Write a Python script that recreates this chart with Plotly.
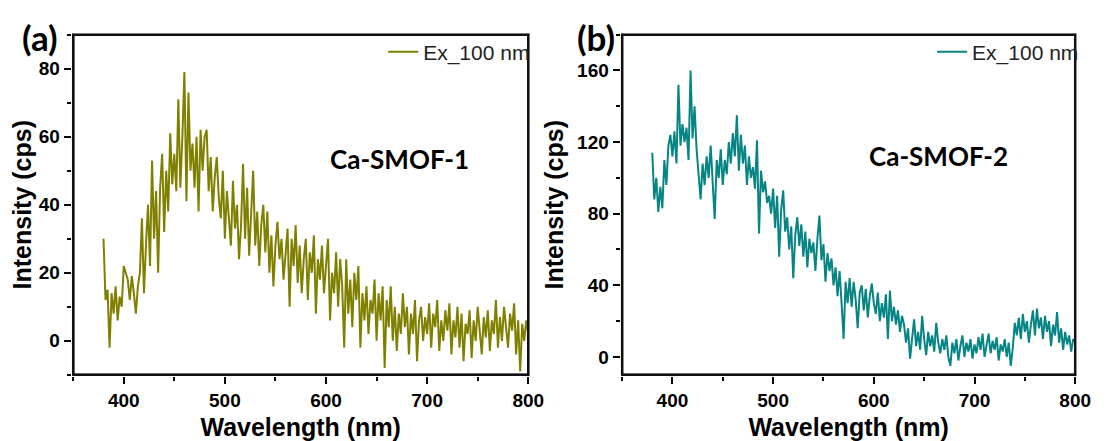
import plotly.graph_objects as go

# Wavelength grid (nm), 2 nm step
wavelength = list(range(380, 801, 2))

# Ca-SMOF-1 intensity (cps)
smof1 = [
    30, 12, 15, -2, 14, 8, 16, 6, 13, 10,
    22, 20, 18, 12, 19, 14, 8, 16, 20, 36,
    14, 28, 40, 22, 53, 30, 44, 20, 45, 55,
    32, 50, 38, 61, 46, 55, 44, 71, 45, 60,
    79, 41, 73, 50, 58, 45, 60, 38, 62, 50,
    60, 62, 44, 54, 38, 48, 54, 42, 36, 50,
    30, 44, 35, 28, 47, 33, 40, 24, 34, 52,
    30, 45, 25, 36, 50, 28, 38, 22, 34, 40,
    26, 38, 20, 31, 16, 28, 35, 24, 30, 18,
    26, 33, 10, 30, 22, 34, 17, 28, 14, 24,
    30, 12, 26, 20, 31, 8, 24, 18, 28, 14,
    22, 30, 6, 20, 14, 26, 10, 24, 16, -2,
    24, 8, 18, 4, 20, 12, 22, -2, 14, 6,
    16, 2, 12, 8, 18, 0, 14, 6, 16, -8,
    12, 4, 16, 0, 10, -3, 8, 2, 14, 4,
    10, -4, 8, 2, 12, -6, 6, 10, 0, 7,
    2, 11, -2, 8, 4, 12, -3, 6, 0, 9,
    3, 11, -4, 6, 1, 10, -2, 8, -6, 5,
    2, 9, -5, 6, 0, 10, 3, -4, 7, 1,
    9, -3, 6, 2, 12, -2, 7, 0, 10, 4,
    -2, 8, 3, 11, -4, 6, -9, 5, 0, 6,
    2,
]

# Ca-SMOF-2 intensity (cps)
smof2 = [
    114, 88, 100, 81, 95, 83, 110, 96, 118, 124,
    112, 126, 108, 152, 118, 130, 120, 128, 110, 160,
    122, 140, 116, 100, 88, 108, 96, 112, 100, 118,
    95, 77, 110, 100, 116, 96, 110, 102, 120, 108,
    125, 112, 135, 104, 124, 108, 118, 96, 112, 100,
    106, 94, 121, 69, 104, 92, 98, 86, 90, 80,
    94, 72, 90, 56, 82, 93, 70, 78, 60, 73,
    44, 68, 78, 62, 74, 56, 70, 50, 66, 58,
    64, 48, 66, 79, 54, 63, 42, 58, 48, 55,
    40, 50, 34, 48, 30, 10, 42, 30, 44, 28,
    42, 32, 16, 36, 40, 26, 38, 22, 34, 41,
    30, 24, 36, 20, 30, 22, 35, 10, 37, 20,
    28, 18, 26, 14, 23, 18, 8, 16, -1, 12,
    21, 6, 14, 4, 23, 10, 1, 14, 6, 12,
    3, 19, 8, 2, 10, 4, 12, 0, -5, 8,
    2, 10, -2, 6, 12, 0, 8, 3, 10, -1,
    7, 2, 11, 4, 13, 0, 6, 13, 2, 9,
    4, 11, -2, 7, 3, 10, 0, 8, -5, 5,
    19, 12, 22, 10, 24, 14, 20, 8, 18, 26,
    12, 27, 16, 22, 10, 23, 14, 20, 6, 18,
    12, 25, 8, 16, 4, 14, 7, 12, 3, 10,
    8,
]

legend_label = "Ex_100 nm"
panel_labels = ["(a)", "(b)"]
sample_names = ["Ca-SMOF-1", "Ca-SMOF-2"]
x_ticks = [400, 500, 600, 700, 800]
x_minor = [350, 450, 550, 650, 750]
y1_ticks = [0, 20, 40, 60, 80]
y1_minor = [-10, 10, 30, 50, 70, 90]
y2_ticks = [0, 40, 80, 120, 160]
y2_minor = [20, 60, 100, 140, 180]
x_range = [350, 800]
y1_range = [-10, 90]
y2_range = [-10, 180]

# page body has an 8 px margin: the figure starts 8 px right and down
OFF = 8
W, H = 1105 - OFF, 441 - OFF
olive = "#808000"
teal = "#078585"
FRAME = "#111111"
PADPX = 1.5  # frame drawn this many px inside the plotting area
BAR = 2.2    # frame bar thickness in px

def px(x):
    return (x - OFF) / W

def py(y):
    return 1 - (y - OFF) / H

# frame pixel boxes (screen px) from the reference
FR_Y = (35, 380)
FR_A = (74, 535)
FR_B = (630, 1089)

def padded(rng, span_px):
    d = (rng[1] - rng[0]) / span_px * PADPX
    return [rng[0] - d, rng[1] + d]

def frame_xy(xr, yr):
    return [xr[0], xr[1], xr[1], xr[0], xr[0]], [yr[0], yr[0], yr[1], yr[1], yr[0]]

fig = go.Figure()
fig.add_trace(go.Scatter(x=wavelength, y=smof1, mode="lines", name=legend_label,
                         line=dict(color=olive, width=2), xaxis="x", yaxis="y",
                         legend="legend"))
fig.add_trace(go.Scatter(x=wavelength, y=smof2, mode="lines", name=legend_label,
                         line=dict(color=teal, width=2), xaxis="x2", yaxis="y2",
                         legend="legend2"))

# plot frames (box around each panel, following the axis ranges)
for xa, ya, yr in (("x", "y", y1_range), ("x2", "y2", y2_range)):
    fx, fy = frame_xy(x_range, yr)
    fig.add_trace(go.Scatter(x=fx, y=fy, mode="lines", xaxis=xa, yaxis=ya,
                             line=dict(color=FRAME, width=2.5),
                             showlegend=False, hoverinfo="skip"))

# frame as filled bars as well (paper coordinates)
for fr_x in (FR_A, FR_B):
    x0, x1 = fr_x
    y0, y1 = FR_Y
    bars = [
        (x0 - 1, y0 - 1, x1 + 1, y0 - 1 + BAR),   # top
        (x0 - 1, y1 + 1 - BAR, x1 + 1, y1 + 1),   # bottom
        (x0 - 1, y0 - 1, x0 - 1 + BAR, y1 + 1),   # left
        (x1 + 1 - BAR, y0 - 1, x1 + 1, y1 + 1),   # right
    ]
    for bx0, by0, bx1, by1 in bars:
        fig.add_shape(type="rect", xref="paper", yref="paper",
                      x0=px(bx0), x1=px(bx1), y0=py(by1), y1=py(by0),
                      fillcolor=FRAME, line=dict(width=0), layer="above")

ydom = [py(FR_Y[1] + PADPX), py(FR_Y[0] - PADPX)]
xdom1 = [px(FR_A[0] - PADPX), px(FR_A[1] + PADPX)]
xdom2 = [px(FR_B[0] - PADPX), px(FR_B[1] + PADPX)]
span_y = FR_Y[1] - FR_Y[0]
span_a = FR_A[1] - FR_A[0]
span_b = FR_B[1] - FR_B[0]

tickfont = dict(family="Liberation Sans, Arial", size=19, color="#000000")
titlefont = dict(family="Liberation Sans, Arial", size=25, color="#000000")

def xaxis(dom, anchor, span):
    return dict(domain=dom, anchor=anchor, range=padded(x_range, span),
                tickmode="array", tickvals=x_ticks, ticktext=[f"<b>{v}</b>" for v in x_ticks],
                showline=False,
                ticks="outside", ticklen=7, tickwidth=2, tickcolor="#000000",
                minor=dict(tickmode="array", tickvals=x_minor,
                           ticks="outside", ticklen=4, tickwidth=2, tickcolor="#000000"),
                showgrid=False, zeroline=False, tickfont=tickfont,
                title=dict(text="<b>Wavelength (nm)</b>", font=titlefont, standoff=12))

def yaxis(dom, anchor, rng, ticks, minor_vals):
    return dict(domain=dom, anchor=anchor, range=padded(rng, span_y),
                tickmode="array", tickvals=ticks, ticktext=[f"<b>{v}</b>" for v in ticks],
                showline=False,
                ticks="outside", ticklen=7, tickwidth=2, tickcolor="#000000",
                minor=dict(tickmode="array", tickvals=minor_vals,
                           ticks="outside", ticklen=4, tickwidth=2, tickcolor="#000000"),
                showgrid=False, zeroline=False, tickfont=tickfont,
                title=dict(text="<b>Intensity (cps)</b>", font=titlefont, standoff=6))

legfont = dict(family="Liberation Sans, Arial", size=21, color="#222222")

fig.update_layout(
    width=W, height=H,
    margin=dict(l=0, r=0, t=0, b=0),
    paper_bgcolor="white", plot_bgcolor="white",
    xaxis=xaxis(xdom1, "y", span_a),
    yaxis=yaxis(ydom, "x", y1_range, y1_ticks, y1_minor),
    xaxis2=xaxis(xdom2, "y2", span_b),
    yaxis2=yaxis(ydom, "x2", y2_range, y2_ticks, y2_minor),
    legend=dict(x=px(542), y=py(32), xanchor="right", yanchor="top",
                font=legfont, bgcolor="rgba(0,0,0,0)", borderwidth=0),
    legend2=dict(x=px(1098), y=py(32), xanchor="right", yanchor="top",
                 font=legfont, bgcolor="rgba(0,0,0,0)", borderwidth=0),
    showlegend=True,
)

annfont_big = dict(family="Lato, Open Sans", size=35, color="#000000")
annfont = dict(family="Lato, Open Sans", size=26, color="#000000")

fig.add_annotation(text=f"<b>{panel_labels[0]}</b>", x=px(40), y=py(37), xref="paper", yref="paper",
                   showarrow=False, font=annfont_big, xanchor="center", yanchor="middle")
fig.add_annotation(text=f"<b>{panel_labels[1]}</b>", x=px(604), y=py(37), xref="paper", yref="paper",
                   showarrow=False, font=annfont_big, xanchor="center", yanchor="middle")
fig.add_annotation(text=f"<b>{sample_names[0]}</b>", x=673, y=53.5, xref="x", yref="y",
                   showarrow=False, font=annfont, xanchor="center", yanchor="middle")
fig.add_annotation(text=f"<b>{sample_names[1]}</b>", x=664, y=112, xref="x2", yref="y2",
                   showarrow=False, font=annfont, xanchor="center", yanchor="middle")

fig.write_html("out.html")
